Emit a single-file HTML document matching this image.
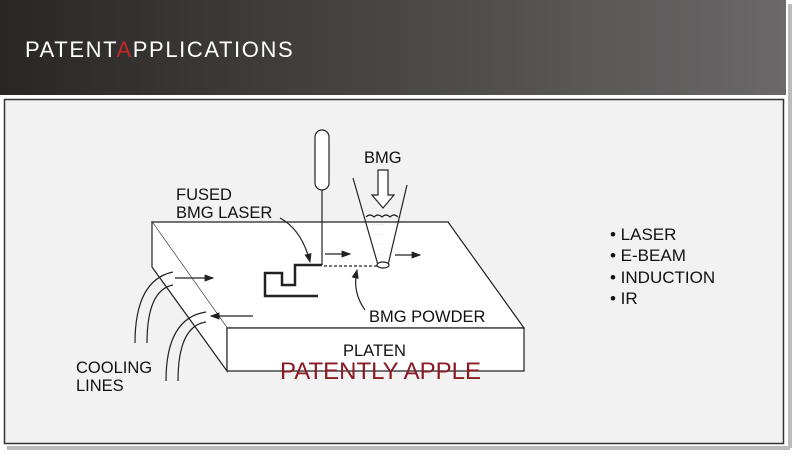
<!DOCTYPE html>
<html><head><meta charset="utf-8"><style>
body{margin:0;width:800px;height:460px;background:#fff;overflow:hidden;font-family:"Liberation Sans",Arial,sans-serif}
</style></head><body>
<svg width="800" height="460" viewBox="0 0 800 460" xmlns="http://www.w3.org/2000/svg" font-family="Liberation Sans, Arial, sans-serif">
<defs>
<linearGradient id="hg" x1="0" y1="0" x2="1" y2="0">
<stop offset="0" stop-color="#2a2626"/><stop offset="0.5" stop-color="#4a4646"/><stop offset="1" stop-color="#6a6868"/>
</linearGradient>
<marker id="ar" markerWidth="8" markerHeight="6" refX="7" refY="3" orient="auto"><path d="M0,0 L8,3 L0,6 Z" fill="#222"/></marker>
</defs>
<rect x="0" y="0" width="786" height="95" fill="url(#hg)"/>
<text x="25" y="57" font-size="22" fill="#fff" letter-spacing="1.6">PATENT<tspan fill="#c0282a">A</tspan>PPLICATIONS</text>
<rect x="788" y="4" width="4" height="444" fill="#bbb"/>
<rect x="7" y="446" width="783" height="4" fill="#bbb"/>
<rect x="4.5" y="99.5" width="779" height="344" fill="#f2f2f2" stroke="#333" stroke-width="1.5"/>
<g stroke="#222" fill="none" stroke-width="1.2">
<path d="M152,222 L448,222 L524,328 L227,328 Z" fill="#fff"/>
<path d="M152,222 L152,267 L227,371 L227,328" fill="#fff"/>
<path d="M227,328 L524,328 L524,371 L227,371 Z" fill="#fff"/>
<rect x="315" y="130" width="14" height="60" rx="7" fill="#fff"/>
<path d="M322,190 L322,265"/>
<path d="M322,265 L295,265 L295,285 L282,285 L282,273 L265,273 L265,296 L318,296" stroke-width="2.5"/>
<path d="M324,266 L378,266" stroke-dasharray="3,2"/>
<path d="M353,178 L378,265 M407,185 L388,265"/>
<ellipse cx="383" cy="265" rx="6" ry="3" fill="#fff"/>
<path d="M366,217 q4,-4 8,0 q4,-4 8,0 q4,-4 8,0 q4,-4 8,0"/>
<path d="M378,170 L388,170 L388,195 L394,195 L383,208 L372,195 L378,195 Z" fill="#fff"/>
<path d="M325,254 L350,254" marker-end="url(#ar)"/>
<path d="M395,255 L420,255" marker-end="url(#ar)"/>
<path d="M280,218 Q302,230 310,262" marker-end="url(#ar)"/>
<path d="M365,310 Q352,292 357,270" marker-end="url(#ar)"/>
<path d="M135,343 Q135,280 173,272"/>
<path d="M147,343 Q147,290 173,285"/>
<path d="M166,381 Q166,318 206,312"/>
<path d="M178,381 Q178,326 206,322"/>
<path d="M175,278 L213,278" marker-end="url(#ar)"/>
<path d="M253,316 L211,316" marker-end="url(#ar)"/>
</g>
<g fill="#999" font-size="6"><text x="372" y="225">. . . .</text><text x="375" y="235">. . .</text><text x="377" y="245">. .</text><text x="378" y="255">. .</text></g>
<g font-size="16.5" fill="#111">
<text x="364" y="163">BMG</text>
<text x="176" y="200">FUSED</text>
<text x="176" y="218">BMG LASER</text>
<text x="369" y="322">BMG POWDER</text>
<text x="343" y="356">PLATEN</text>
<text x="76" y="373">COOLING</text>
<text x="76" y="391">LINES</text>
</g>
<text x="280" y="379" font-size="24" fill="#8b1a24">PATENTLY APPLE</text>
<g font-size="17" fill="#111">
<text x="610" y="240">• LASER</text>
<text x="610" y="261">• E-BEAM</text>
<text x="610" y="283">• INDUCTION</text>
<text x="610" y="304">• IR</text>
</g>
</svg>
</body></html>
